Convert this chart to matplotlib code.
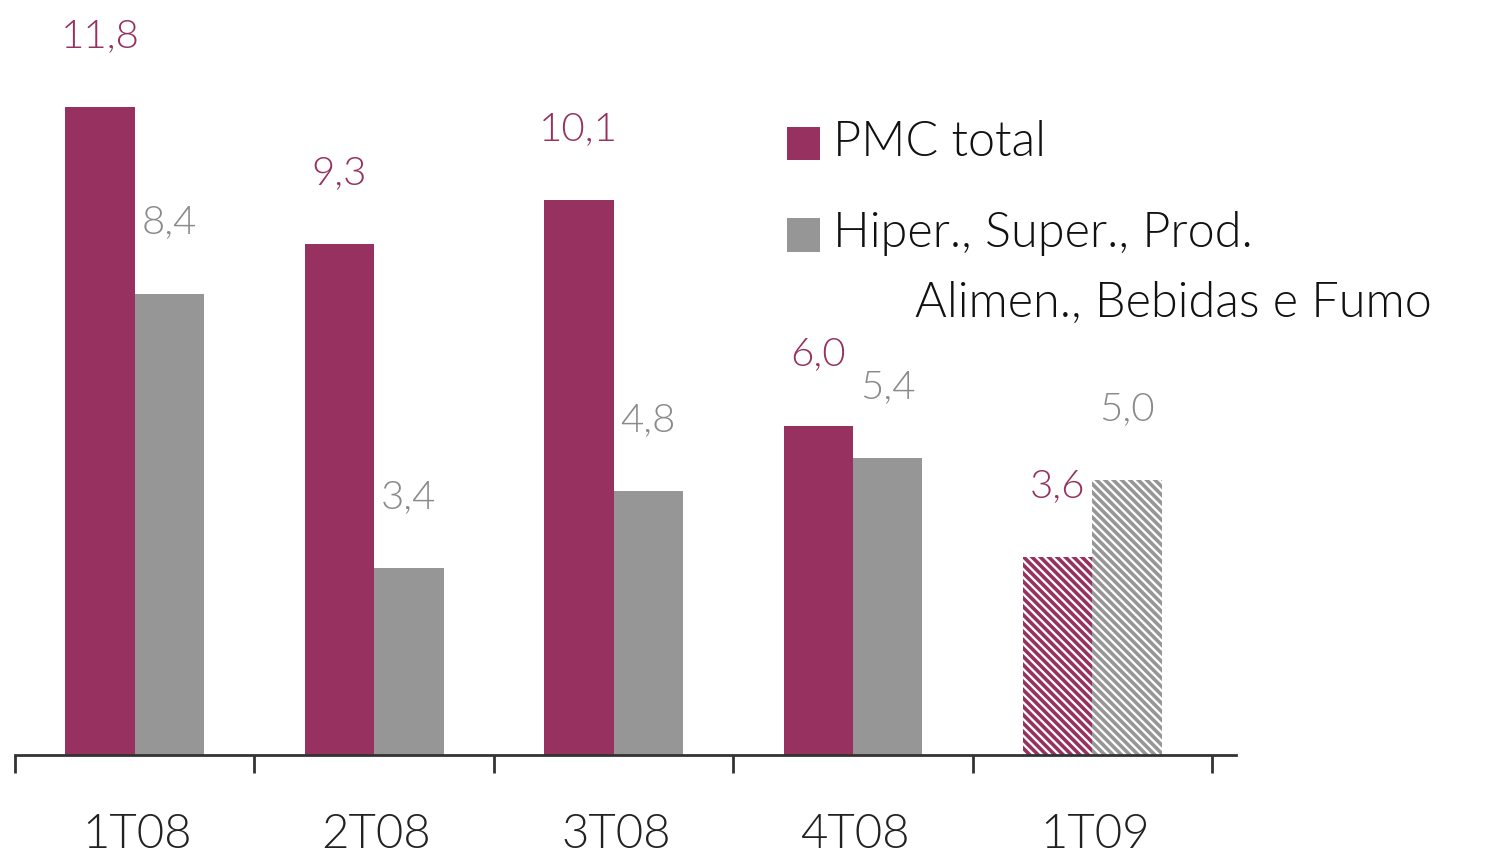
import numpy as np
import matplotlib.pyplot as plt
from matplotlib.patches import Rectangle

plt.rcParams['font.family'] = ['Lato', 'DejaVu Sans']
plt.rcParams['font.weight'] = 300
plt.rcParams['hatch.linewidth'] = 2.6

quarters = ["1T08", "2T08", "3T08", "4T08", "1T09"]
pmc_total = [11.8, 9.3, 10.1, 6.0, 3.6]
hiper = [8.4, 3.4, 4.8, 5.4, 5.0]
projected = [False, False, False, False, True]

magenta = "#963160"
gray = "#969696"

W, H = 1507, 861
fig = plt.figure(figsize=(W / 100, H / 100), dpi=100)
ax = fig.add_axes([0, 106 / H, 1, 1 - 106 / H])

x = np.arange(len(quarters))
bw = 0.29
for i in range(len(quarters)):
    for val, off, col in ((pmc_total[i], -0.145, magenta), (hiper[i], 0.145, gray)):
        if projected[i]:
            ax.bar(x[i] + off, val, bw, facecolor="white", edgecolor=col,
                   hatch="\\\\\\\\", linewidth=0)
        else:
            ax.bar(x[i] + off, val, bw, color=col, linewidth=0)
        ax.text(x[i] + off, val + 1.3, f"{val:.1f}".replace(".", ","),
                ha="center", va="center", fontsize=29,
                color=col if col == magenta else "#8a8a8a")

ax.set_xlim(-0.5627, 5.732)
ax.set_ylim(0, 13.75)
ax.set_yticks([])
ax.set_xticks(np.arange(-0.5, len(quarters)))
ax.set_xticklabels([])
for i, q in enumerate(quarters):
    ax.text(x[i] + 0.01, -1.45, q, ha="center", va="center", fontsize=34,
            color="#222222")
for s in ("top", "right", "left"):
    ax.spines[s].set_visible(False)
ax.spines["bottom"].set_bounds(-0.5, 4.6)
ax.spines["bottom"].set_linewidth(2)
ax.spines["bottom"].set_color("#333333")
ax.tick_params(axis="x", direction="out", length=13, width=2, color="#333333")

# legend
def px(xp, yp):
    return xp / W, 1 - yp / H

fig.patches.append(Rectangle(px(787, 160), 33 / W, 33 / H, transform=fig.transFigure,
                             facecolor=magenta, edgecolor="none"))
fig.patches.append(Rectangle(px(787, 252), 33 / W, 34 / H, transform=fig.transFigure,
                             facecolor=gray, edgecolor="none"))
fig.text(*px(833, 142), "PMC total", fontsize=35, va="center", ha="left", color="#111111")
fig.text(*px(833, 233), "Hiper., Super., Prod.", fontsize=35, va="center", ha="left",
         color="#111111")
fig.text(*px(915, 303), "Alimen., Bebidas e Fumo", fontsize=35, va="center", ha="left",
         color="#111111")

fig.savefig("out.png", dpi=100)
